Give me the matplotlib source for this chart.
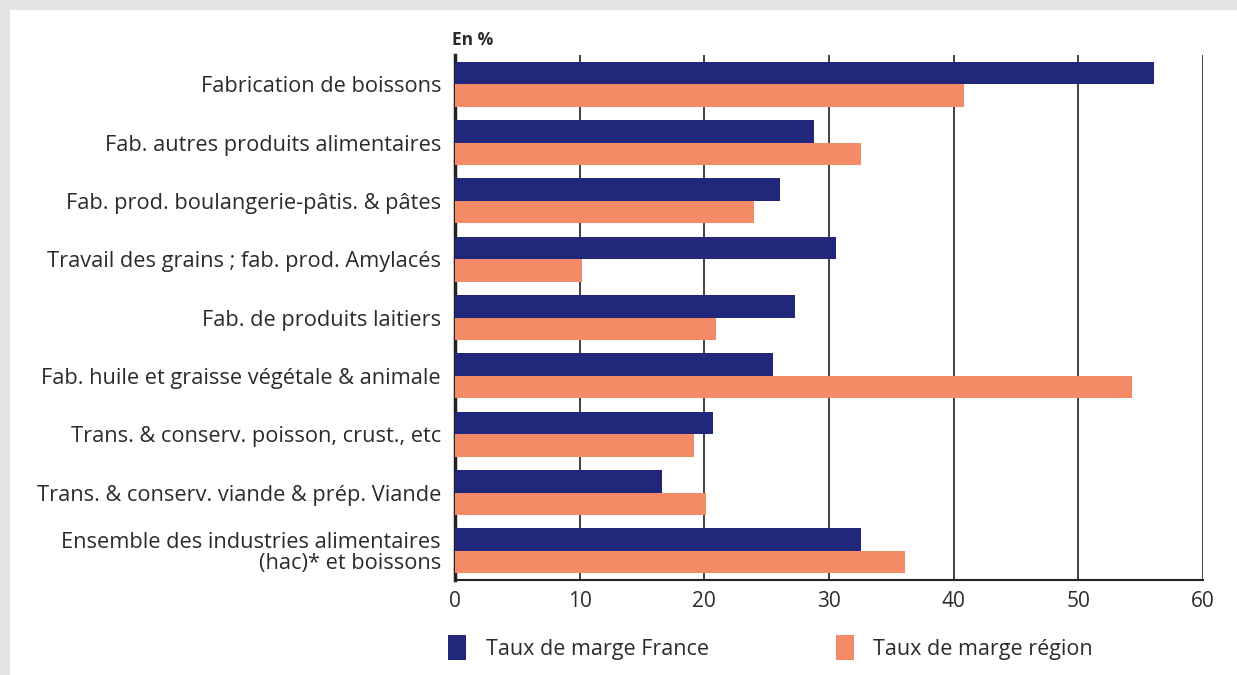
import matplotlib.pyplot as plt
import matplotlib.patches as mpatches
import numpy as np

plt.rcParams['font.family'] = ['Open Sans', 'DejaVu Sans']

# --- data ---
categories = [
    "Fabrication de boissons",
    "Fab. autres produits alimentaires",
    "Fab. prod. boulangerie-pâtis. & pâtes",
    "Travail des grains ; fab. prod. Amylacés",
    "Fab. de produits laitiers",
    "Fab. huile et graisse végétale & animale",
    "Trans. & conserv. poisson, crust., etc",
    "Trans. & conserv. viande & prép. Viande",
    "Ensemble des industries alimentaires\n(hac)* et boissons",
]
taux_france = [56.1, 28.8, 26.1, 30.6, 27.3, 25.5, 20.7, 16.6, 32.6]
taux_region = [40.8, 32.6, 24.0, 10.2, 20.9, 54.3, 19.2, 20.1, 36.1]
xticks = [0, 10, 20, 30, 40, 50, 60]

navy = '#21277b'
salmon = '#f58b66'
text_col = '#2b2b2b'

fig = plt.figure(figsize=(12.37, 6.75), dpi=100)
fig.patch.set_facecolor('#e3e4e6')
fig.patches.append(mpatches.Rectangle((10 / 1237, 0), 1, 1 - 10 / 675,
                                      transform=fig.transFigure,
                                      facecolor='white', edgecolor='none', zorder=-5))

ax = fig.add_axes([455 / 1237, 1 - 580 / 675, (1203 - 455) / 1237, (580 - 55) / 675])
ax.set_facecolor('none')

y = np.arange(len(categories))
h = 0.385
ax.barh(y - h / 2, taux_france, height=h, color=navy, label='Taux de marge France', zorder=3)
ax.barh(y + h / 2, taux_region, height=h, color=salmon, label='Taux de marge région', zorder=3)

ax.set_ylim(len(categories) - 0.5, -0.5)
ax.set_xlim(0, 60)
ax.set_yticks(y)
ax.set_yticklabels(categories, fontsize=15.7, color=text_col, linespacing=0.95)
ax.set_xticks(xticks)
ax.set_xticklabels([str(t) for t in xticks], fontsize=15, color=text_col)
ax.tick_params(axis='y', length=0, pad=10)
ax.tick_params(axis='x', length=0, pad=8)

ax.grid(axis='x', color='#222222', linewidth=1.2, zorder=1)
for s in ['top', 'right']:
    ax.spines[s].set_visible(False)
ax.spines['left'].set_linewidth(2.5)
ax.spines['left'].set_color('#222222')
ax.spines['bottom'].set_linewidth(1.5)
ax.spines['bottom'].set_color('#222222')

fig.text(452 / 1237, 1 - 40 / 675, "En %", fontsize=12.5, fontweight='bold',
         color=text_col, va='center', ha='left')

leg = ax.legend(loc='upper left', bbox_to_anchor=(-0.035, -0.068), ncol=2,
                frameon=False, fontsize=15.5, handlelength=0.84, handleheight=1.4,
                handletextpad=0.9, columnspacing=5.9, labelcolor=text_col)

fig.savefig('out.png', dpi=100, facecolor=fig.get_facecolor())
